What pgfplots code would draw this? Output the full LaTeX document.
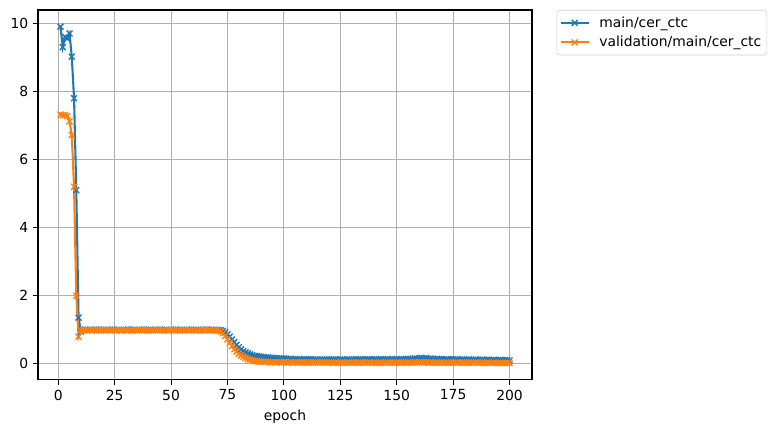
\documentclass[border=0pt]{standalone}
\usepackage{fontspec}
\setmainfont{DejaVu Sans}
\usepackage{pgfplots}
\usepackage{pgfplotstable}
\pgfplotsset{compat=1.18}
\definecolor{c0}{HTML}{1F77B4}
\definecolor{c1}{HTML}{FF7F0E}
\definecolor{gridc}{HTML}{B0B0B0}
\pgfplotstableread{
e m v
1 9.90 7.32
2 9.30 7.30
3 9.60 7.31
4 9.55 7.28
5 9.70 7.12
6 9.02 6.72
7 7.80 5.20
8 5.10 2.00
9 1.36 0.80
10 0.95 0.98
11 1.00 0.99
12 1.01 1.00
13 1.00 0.99
14 1.00 0.99
15 0.99 0.99
16 1.00 1.00
17 1.01 0.99
18 1.00 0.99
19 1.00 0.98
20 1.00 0.99
21 0.99 0.99
22 1.00 1.00
23 1.00 0.99
24 1.01 0.99
25 1.00 0.99
26 1.00 0.98
27 1.00 0.99
28 0.99 0.99
29 1.00 1.00
30 1.00 0.99
31 1.01 0.99
32 1.00 0.99
33 1.00 0.98
34 1.00 0.99
35 0.99 0.99
36 1.00 1.00
37 1.00 0.99
38 1.01 0.99
39 1.00 0.99
40 1.00 0.98
41 1.00 0.99
42 0.99 0.99
43 1.00 1.00
44 1.00 0.99
45 1.01 0.99
46 1.00 0.99
47 1.00 0.98
48 1.00 0.99
49 0.99 0.99
50 1.00 1.00
51 1.00 0.99
52 1.01 0.99
53 1.00 0.99
54 1.00 0.98
55 1.00 0.99
56 0.99 0.99
57 1.00 1.00
58 1.00 0.99
59 1.01 0.99
60 1.00 0.99
61 1.00 0.98
62 1.00 0.99
63 0.99 0.99
64 1.00 1.00
65 1.00 0.99
66 1.01 0.99
67 1.00 0.99
68 1.00 0.98
69 1.00 0.99
70 1.00 0.99
71 1.00 0.98
72 0.99 0.95
73 0.97 0.90
74 0.93 0.82
75 0.87 0.72
76 0.80 0.62
77 0.72 0.52
78 0.64 0.43
79 0.56 0.36
80 0.49 0.30
81 0.43 0.25
82 0.38 0.21
83 0.34 0.17
84 0.31 0.14
85 0.28 0.12
86 0.26 0.10
87 0.24 0.09
88 0.23 0.08
89 0.22 0.07
90 0.21 0.07
91 0.20 0.06
92 0.19 0.06
93 0.19 0.06
94 0.18 0.05
95 0.18 0.05
96 0.17 0.05
97 0.17 0.05
98 0.16 0.05
99 0.16 0.04
100 0.16 0.05
101 0.15 0.05
102 0.14 0.04
103 0.15 0.05
104 0.14 0.04
105 0.14 0.05
106 0.13 0.04
107 0.14 0.04
108 0.13 0.05
109 0.14 0.04
110 0.13 0.04
111 0.13 0.04
112 0.14 0.05
113 0.13 0.04
114 0.13 0.04
115 0.12 0.04
116 0.13 0.04
117 0.13 0.05
118 0.12 0.04
119 0.13 0.04
120 0.13 0.04
121 0.12 0.04
122 0.13 0.03
123 0.13 0.04
124 0.12 0.04
125 0.13 0.04
126 0.13 0.04
127 0.12 0.03
128 0.13 0.04
129 0.13 0.04
130 0.12 0.04
131 0.13 0.04
132 0.14 0.04
133 0.13 0.03
134 0.13 0.04
135 0.12 0.04
136 0.13 0.04
137 0.14 0.04
138 0.13 0.04
139 0.13 0.03
140 0.14 0.04
141 0.13 0.04
142 0.13 0.04
143 0.14 0.04
144 0.13 0.03
145 0.13 0.04
146 0.14 0.04
147 0.13 0.04
148 0.14 0.04
149 0.13 0.03
150 0.14 0.04
151 0.13 0.04
152 0.14 0.04
153 0.13 0.04
154 0.14 0.03
155 0.15 0.04
156 0.14 0.04
157 0.15 0.04
158 0.16 0.05
159 0.15 0.04
160 0.17 0.05
161 0.18 0.05
162 0.16 0.04
163 0.17 0.05
164 0.15 0.04
165 0.16 0.04
166 0.15 0.04
167 0.14 0.04
168 0.15 0.04
169 0.14 0.03
170 0.14 0.04
171 0.13 0.04
172 0.14 0.04
173 0.13 0.03
174 0.13 0.04
175 0.14 0.04
176 0.13 0.04
177 0.13 0.03
178 0.12 0.04
179 0.13 0.04
180 0.13 0.04
181 0.12 0.03
182 0.13 0.04
183 0.12 0.04
184 0.12 0.03
185 0.13 0.04
186 0.12 0.04
187 0.12 0.03
188 0.12 0.04
189 0.11 0.03
190 0.12 0.04
191 0.12 0.03
192 0.11 0.03
193 0.12 0.04
194 0.11 0.03
195 0.11 0.03
196 0.12 0.03
197 0.11 0.03
198 0.11 0.03
199 0.11 0.03
200 0.10 0.02
}\data
\begin{document}
\begin{tikzpicture}
\useasboundingbox (-27.4pt,-37.4pt) rectangle (534.3pt,273.6pt);
\begin{axis}[
  scale only axis,
  width=355.7pt, height=266.4pt,
  xmin=-8.95, xmax=209.95,
  ymin=-0.47, ymax=10.39,
  xtick={0,25,...,200},
  ytick={0,2,...,10},
  grid=major,
  major grid style={gridc, line width=0.8pt},
  tick align=outside,
  xtick pos=bottom, ytick pos=left,
  major tick length=3.5pt,
  tick style={black, line width=0.8pt},
  axis line style={line width=0.8pt},
  /pgf/number format/assume math mode=true,
  ticklabel style={font=\fontsize{10}{12}\selectfont},
  xlabel={epoch},
  xlabel style={font=\fontsize{10}{12}\selectfont, yshift=0pt},
  legend style={at={(1.05,1)}, anchor=north west, draw=black!20,
    rounded corners=2pt, font=\fontsize{10}{12}\selectfont,
    row sep=1pt, inner xsep=2pt, inner ysep=2.5pt,
    nodes={inner ysep=2pt, inner xsep=2pt},
    /tikz/every odd column/.style={column sep=5pt}},
  legend cell align=left,
  legend image code/.code={
    \draw[#1, mark repeat=2, mark phase=2] plot coordinates {(0pt,0pt) (10pt,0pt) (20pt,0pt)};
  },
]
\addplot[c0, line width=1.5pt, mark=x, mark size=3pt, mark options={line width=1pt}] table[x=e, y=m] {\data};
\addlegendentry{main/cer\_ctc}
\addplot[c1, line width=1.5pt, mark=x, mark size=3pt, mark options={line width=1pt}] table[x=e, y=v] {\data};
\addlegendentry{validation/main/cer\_ctc}
\end{axis}
\end{tikzpicture}
\end{document}
